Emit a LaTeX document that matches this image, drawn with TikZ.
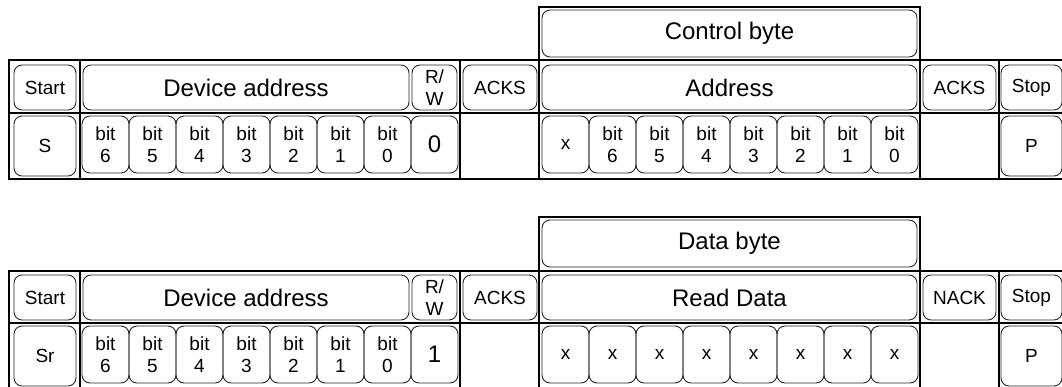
\documentclass[tikz,border=0pt]{standalone}
\usepackage{fontspec}
\setmainfont{Liberation Sans}
\newcommand\smallf{\fontsize{19}{21.5}\selectfont}
\newcommand\bigf{\fontsize{24}{28}\selectfont}
\tikzset{
  cellbox/.style={draw=black!85, line width=0.9pt, rounded corners=8pt, inner sep=0pt, align=center, text=black},
  frameline/.style={draw=black, line width=2pt, line join=miter}
}
\newcommand\cellnode[7]{%
  \node[cellbox, font=#6, minimum width={((#4)-(#2))*1pt}, minimum height={((#5)-(#3))*1pt}]
    (#1) at ({((#2)+(#4))/2},{((#3)+(#5))/2}) {#7};}
\newcommand\protoframe[7]{%
  \draw[frameline] (539,60.5) -- (539,7) -- (919.5,7) -- (919.5,60.5);
  \draw[frameline] (8.5,180) -- (8.5,60.5) -- (1075,60.5);
  \draw[frameline] (8.5,113) -- (1075,113);
  \draw[frameline] (7.5,179) -- (1075,179);
  \foreach \xx in {80,459.5,539,919.5,999}{\draw[frameline] (\xx,60.5) -- (\xx,179);}
  \cellnode{#1hdr}{542}{10}{917}{57}{\bigf}{#2}
  \cellnode{#1start}{14}{65}{76}{110}{\smallf}{Start}
  \cellnode{#1dev}{83}{65}{409}{110}{\bigf}{Device address}
  \cellnode{#1rw}{412}{65}{457}{110}{\fontsize{19}{22}\selectfont}{R/\\W}
  \cellnode{#1acka}{463}{65}{537}{110}{\smallf}{ACKS}
  \cellnode{#1mid}{542}{65}{917}{110}{\bigf}{#3}
  \cellnode{#1ackb}{923}{65}{996}{110}{\smallf}{#4}
  \cellnode{#1stop}{1001}{65}{1062}{110}{\smallf}{Stop}
  \cellnode{#1s}{14}{116}{76}{176}{\smallf}{#5}
  \foreach \k/\b in {0/6,1/5,2/4,3/3,4/2,5/1,6/0}{%
    \cellnode{#1da\k}{82+47*\k}{116}{129+47*\k}{173}{\smallf}{bit\\\b}}
  \cellnode{#1rwb}{411}{116}{458}{173}{\bigf}{#6}
  #7
  \cellnode{#1p}{1001}{116}{1062}{176}{\smallf}{P}
}
\begin{document}
\begin{tikzpicture}[x=1pt,y=-1pt]
\useasboundingbox (0,0) rectangle (1062,387);
\clip (0,0) rectangle (1062,387);
\protoframe{a}{Control byte}{Address}{ACKS}{S}{0}{%
  \cellnode{ax}{542}{116}{589}{173}{\smallf}{x}%
  \foreach \k/\b in {1/6,2/5,3/4,4/3,5/2,6/1,7/0}{%
    \cellnode{ab\k}{542+47*\k}{116}{589+47*\k}{173}{\smallf}{bit\\\b}}%
}
\begin{scope}[yshift=-210pt]
\protoframe{b}{Data byte}{Read Data}{NACK}{Sr}{1}{%
  \foreach \k in {0,...,7}{%
    \cellnode{bx\k}{542+47*\k}{116}{589+47*\k}{173}{\smallf}{x}}%
}
\end{scope}
\end{tikzpicture}
\end{document}
